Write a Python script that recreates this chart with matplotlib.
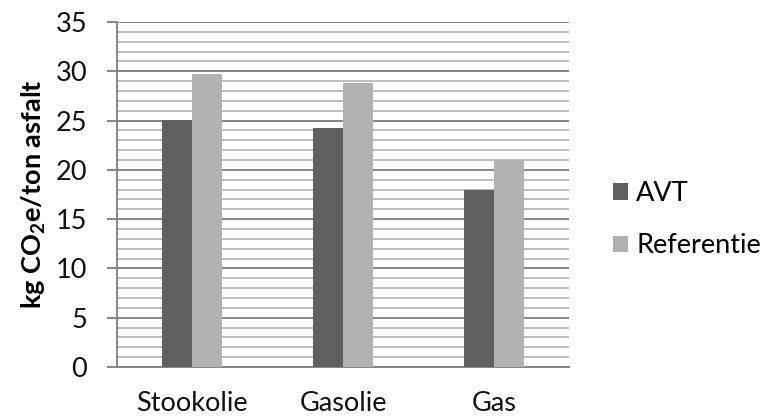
import numpy as np
import matplotlib.pyplot as plt
from matplotlib.ticker import MultipleLocator

categories = ["Stookolie", "Gasolie", "Gas"]
avt = [25.1, 24.2, 18.0]
referentie = [29.7, 28.8, 21.0]

plt.rcParams['font.family'] = ['Lato', 'DejaVu Sans']
plt.rcParams['mathtext.fontset'] = 'custom'
plt.rcParams['mathtext.rm'] = 'Lato:bold'

fig = plt.figure(figsize=(7.64, 4.19), dpi=100)
ax = fig.add_axes([0.153, 0.124, 0.592, 0.8235])

x = np.arange(len(categories))
w = 0.2
ax.bar(x - w / 2, avt, w, color='#606060', label='AVT', zorder=3)
ax.bar(x + w / 2, referentie, w, color='#b2b2b2', label='Referentie', zorder=3)

ax.set_xlim(-0.5, 2.5)
ax.set_ylim(0, 35)
ax.yaxis.set_major_locator(MultipleLocator(5))
ax.yaxis.set_minor_locator(MultipleLocator(1))
ax.grid(which='major', axis='y', color='#868686', lw=1.4, zorder=1)
ax.grid(which='minor', axis='y', color='#bdbdbd', lw=1.4, zorder=1)

for s in ['top', 'right']:
    ax.spines[s].set_visible(False)
for s in ['left', 'bottom']:
    ax.spines[s].set_color('#868686')
    ax.spines[s].set_linewidth(1.4)

fs = 19.5
ax.set_xticks(x)
ax.set_xticklabels(categories)
ax.tick_params(axis='x', length=0, pad=17, labelsize=fs, labelcolor='#111111')
ax.tick_params(axis='y', which='major', length=7.5, width=1.4, color='#868686',
               pad=14, labelsize=fs, labelcolor='#111111')
ax.tick_params(axis='y', which='minor', length=0)

ax.set_ylabel(r'kg CO$_{\mathrm{2}}$e/ton asfalt', fontsize=19.5,
              fontweight='bold', labelpad=5)

ax.legend(loc='center left', bbox_to_anchor=(1.043, 0.427), frameon=False,
          fontsize=fs, handlelength=0.55, handleheight=0.55, handletextpad=0.3,
          labelspacing=1.0)

fig.savefig('out.png', dpi=100)
